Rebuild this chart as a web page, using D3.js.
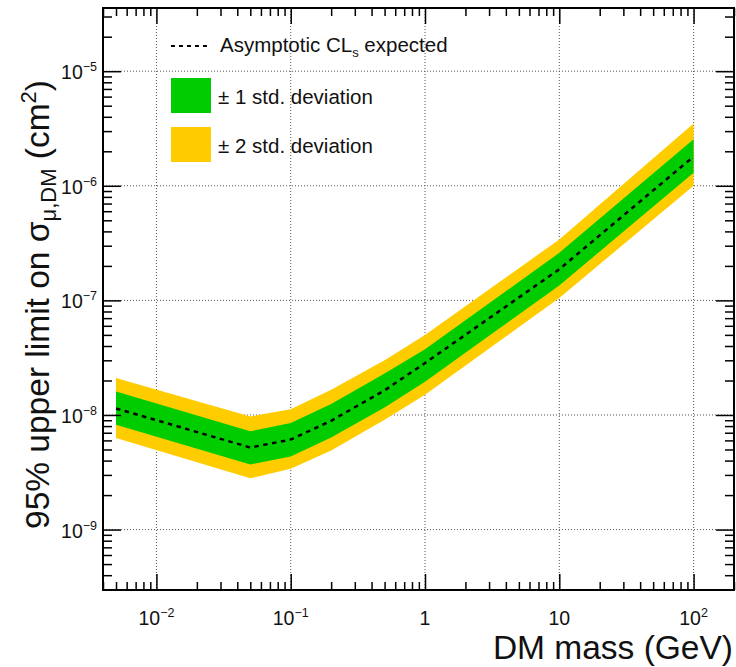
<!DOCTYPE html>
<html>
<head>
<meta charset="utf-8">
<script src="https://cdn.jsdelivr.net/npm/d3@7"></script>
<style>
  body { margin: 0; background: #fff; }
  svg { display: block; font-family: "Liberation Sans", Arial, Helvetica, sans-serif; }
</style>
</head>
<body>
<div id="chart"></div>
<script>
// DM mass points (GeV) and the expected limit band (cm^2)
var mass     = [0.005, 0.05, 0.1, 0.2, 0.5, 1, 10, 100];
var expected = [1.14e-8, 5.2e-9, 6.1e-9, 8.9e-9, 1.64e-8, 2.84e-8, 1.87e-7, 1.8e-6];
var minus2   = [6.3e-9, 2.8e-9, 3.4e-9, 4.9e-9, 9.1e-9, 1.5e-8, 1.05e-7, 1.0e-6];
var minus1   = [8.2e-9, 3.7e-9, 4.35e-9, 6.35e-9, 1.16e-8, 1.95e-8, 1.35e-7, 1.3e-6];
var plus1    = [1.6e-8, 7.2e-9, 8.5e-9, 1.25e-8, 2.3e-8, 3.75e-8, 2.6e-7, 2.55e-6];
var plus2    = [2.1e-8, 9.7e-9, 1.12e-8, 1.66e-8, 3.0e-8, 5.0e-8, 3.4e-7, 3.5e-6];

// tick labels
var xTickValues = [0.01, 0.1, 1, 10, 100];
var xTickBase   = ["10", "10", "1", "10", "10"];
var xTickExp    = ["\u22122", "\u22121", "", "", "2"];
var yTickValues = [1e-9, 1e-8, 1e-7, 1e-6, 1e-5];
var yTickExp    = ["\u22129", "\u22128", "\u22127", "\u22126", "\u22125"];

const width = 736;
const height = 667;
const padLeft = 103, padRight = 734, padTop = 8, padBottom = 590;

const green = "#00cc00";
const yellow = "#ffcc00";

const svg = d3.select("#chart").append("svg")
  .attr("width", width)
  .attr("height", height);

const x = d3.scaleLog().domain([0.004, 200]).range([padLeft, padRight]);
const y = d3.scaleLog().domain([2.97e-10, 3.56e-5]).range([padBottom, padTop]);

// minor tick positions (2..9 in each decade)
var xMinor = [], yMinor = [];
for (var e = -3; e <= 2; e++) {
  for (var k = 2; k <= 9; k++) {
    var v = k * Math.pow(10, e);
    if (v >= 0.004 && v <= 200) xMinor.push(v);
  }
}
for (var e = -10; e <= -5; e++) {
  for (var k = 2; k <= 9; k++) {
    var v = k * Math.pow(10, e);
    if (v >= 2.97e-10 && v <= 3.56e-5) yMinor.push(v);
  }
}

// GRID
const grid = svg.append("g")
  .attr("stroke", "#555")
  .attr("stroke-width", 1)
  .attr("stroke-dasharray", "1,2");

grid.selectAll(".gx").data(xTickValues).enter().append("line")
  .attr("x1", d => x(d)).attr("x2", d => x(d))
  .attr("y1", padTop).attr("y2", padBottom);

grid.selectAll(".gy").data(yTickValues).enter().append("line")
  .attr("x1", padLeft).attr("x2", padRight)
  .attr("y1", d => y(d)).attr("y2", d => y(d));

// BANDS
const rows = mass.map(function(m, i) {
  return { m: m, exp: expected[i], lo2: minus2[i], lo1: minus1[i], hi1: plus1[i], hi2: plus2[i] };
});

const area2 = d3.area().x(d => x(d.m)).y0(d => y(d.lo2)).y1(d => y(d.hi2));
const area1 = d3.area().x(d => x(d.m)).y0(d => y(d.lo1)).y1(d => y(d.hi1));
const line = d3.line().x(d => x(d.m)).y(d => y(d.exp));

svg.append("path").datum(rows).attr("d", area2).attr("fill", yellow);
svg.append("path").datum(rows).attr("d", area1).attr("fill", green);
svg.append("path").datum(rows).attr("d", line)
  .attr("fill", "none")
  .attr("stroke", "#000")
  .attr("stroke-width", 2.5)
  .attr("stroke-dasharray", "4.5,4.5");

// AXES TICKS (all pointing inward)
function ticks(axis, vals, size, transform) {
  svg.append("g")
    .attr("transform", transform)
    .call(axis.tickValues(vals).tickSize(size).tickFormat(""))
    .call(g => g.select(".domain").remove())
    .call(g => g.selectAll("line").attr("stroke", "#000").attr("stroke-width", 1.5));
}
ticks(d3.axisBottom(x), xTickValues, -16, "translate(0," + padBottom + ")");
ticks(d3.axisBottom(x), xMinor, -8, "translate(0," + padBottom + ")");
ticks(d3.axisTop(x), xTickValues, -16, "translate(0," + padTop + ")");
ticks(d3.axisTop(x), xMinor, -8, "translate(0," + padTop + ")");
ticks(d3.axisLeft(y), yTickValues, -18, "translate(" + padLeft + ",0)");
ticks(d3.axisLeft(y), yMinor, -9, "translate(" + padLeft + ",0)");
ticks(d3.axisRight(y), yTickValues, -18, "translate(" + padRight + ",0)");
ticks(d3.axisRight(y), yMinor, -9, "translate(" + padRight + ",0)");

// FRAME
svg.append("rect")
  .attr("x", padLeft).attr("y", padTop)
  .attr("width", padRight - padLeft).attr("height", padBottom - padTop)
  .attr("fill", "none")
  .attr("stroke", "#000")
  .attr("stroke-width", 2);

// TICK LABELS
const xl = svg.selectAll(".xl").data(xTickValues).enter().append("text")
  .attr("x", d => x(d))
  .attr("y", 625)
  .attr("text-anchor", "middle")
  .attr("font-size", "19.5px")
  .attr("fill", "#111");
xl.append("tspan").text((d, i) => xTickBase[i]);
xl.append("tspan")
  .attr("font-size", "12.5px")
  .attr("dy", -8)
  .text((d, i) => xTickExp[i]);

const yl = svg.selectAll(".yl").data(yTickValues).enter().append("text")
  .attr("x", 97)
  .attr("y", d => y(d) + 8)
  .attr("text-anchor", "end")
  .attr("font-size", "19.5px")
  .attr("fill", "#111");
yl.append("tspan").text("10");
yl.append("tspan")
  .attr("font-size", "12.5px")
  .attr("dy", -8)
  .text((d, i) => yTickExp[i]);

// AXIS TITLES
svg.append("text")
  .attr("x", 733)
  .attr("y", 659)
  .attr("text-anchor", "end")
  .attr("font-size", "33.5px")
  .attr("fill", "#111")
  .text("DM mass (GeV)");

const yt = svg.append("text")
  .attr("transform", "translate(49,80) rotate(-90)")
  .attr("text-anchor", "end")
  .attr("font-size", "33.5px")
  .attr("fill", "#111");
yt.append("tspan").text("95% upper limit on \u03C3");
yt.append("tspan").attr("font-size", "22px").attr("dy", 7).text("\u03BC,DM");
yt.append("tspan").attr("dy", -7).text(" (cm");
yt.append("tspan").attr("font-size", "22px").attr("dy", -13).text("2");
yt.append("tspan").attr("dy", 13).text(")");

// LEGEND
svg.append("line")
  .attr("x1", 171).attr("x2", 209)
  .attr("y1", 46).attr("y2", 46)
  .attr("stroke", "#000")
  .attr("stroke-width", 1.8)
  .attr("stroke-dasharray", "4,4");

const lt = svg.append("text")
  .attr("x", 220).attr("y", 52)
  .attr("font-size", "20.5px")
  .attr("fill", "#111");
lt.append("tspan").text("Asymptotic CL");
lt.append("tspan").attr("font-size", "13px").attr("dy", 5).text("s");
lt.append("tspan").attr("dy", -5).text(" expected");

svg.append("rect").attr("x", 171).attr("y", 78).attr("width", 40).attr("height", 35).attr("fill", green);
svg.append("rect").attr("x", 171).attr("y", 127).attr("width", 40).attr("height", 35).attr("fill", yellow);

svg.append("text").attr("x", 218).attr("y", 103.5)
  .attr("font-size", "20.5px").attr("fill", "#111")
  .text("\u00B1 1 std. deviation");
svg.append("text").attr("x", 218).attr("y", 152.5)
  .attr("font-size", "20.5px").attr("fill", "#111")
  .text("\u00B1 2 std. deviation");
</script>
</body>
</html>
